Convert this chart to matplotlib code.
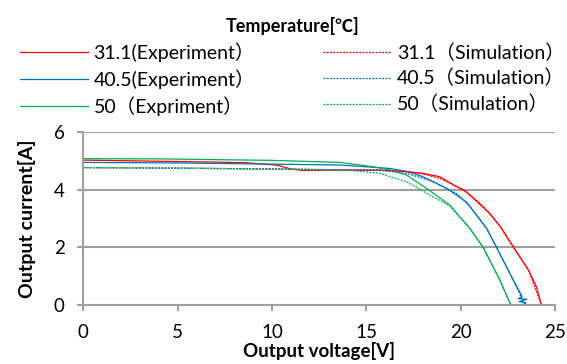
import matplotlib.pyplot as plt

plt.rcParams['font.family'] = ['Lato', 'Noto Sans CJK JP', 'DejaVu Sans']

# I-V curves (voltage [V], current [A])
v_red_exp = [0, 3, 6, 8.6, 10.3, 11.0, 11.6, 13, 15.7, 17, 18.0, 18.9, 19.8, 20.3, 21.0, 21.5, 22.1, 22.8, 23.6, 24.0, 24.28]
i_red_exp = [5.03, 5.0, 4.97, 4.94, 4.85, 4.72, 4.67, 4.68, 4.68, 4.64, 4.57, 4.45, 4.1, 3.93, 3.5, 3.2, 2.72, 2.0, 1.2, 0.65, 0.0]
v_red_sim = [0, 5, 10, 15.7, 17, 18, 18.9, 20.1, 21.0, 21.5, 22.1, 22.8, 23.6, 24.28]
i_red_sim = [4.77, 4.75, 4.72, 4.68, 4.63, 4.55, 4.39, 4.02, 3.55, 3.2, 2.72, 2.0, 1.2, 0.0]

# the blue measurement wiggles back and forth just above 0 A
v_blue_exp = [0, 5, 10, 13.6, 16.24, 17.2, 18.0, 19.25, 20.3, 21.37, 21.9, 22.78, 23.25, 23.05, 23.5, 23.1, 23.45, 23.4]
i_blue_exp = [4.95, 4.93, 4.89, 4.86, 4.74, 4.63, 4.45, 4.05, 3.58, 2.66, 2.0, 0.87, 0.3, 0.22, 0.2, 0.12, 0.08, 0.0]
v_blue_sim = [0, 5, 10, 15.7, 17.13, 18.54, 19.78, 20.5, 21.37, 21.9, 22.78, 23.4]
i_blue_sim = [4.77, 4.75, 4.72, 4.68, 4.57, 4.28, 3.87, 3.41, 2.66, 2.0, 0.87, 0.0]

v_green_exp = [0, 4.2, 10, 13.6, 15.36, 16.3, 17.13, 18.19, 19.42, 20.48, 21.19, 22.07, 22.65]
i_green_exp = [5.08, 5.07, 5.02, 4.95, 4.80, 4.68, 4.51, 4.05, 3.47, 2.66, 2.0, 0.87, 0.0]
v_green_sim = [0, 5, 10, 14, 15.7, 17.13, 18.36, 19.4, 20.48, 21.19, 22.07, 22.65]
i_green_sim = [4.77, 4.75, 4.72, 4.68, 4.57, 4.28, 3.82, 3.45, 2.66, 2.0, 0.87, 0.0]

labels_exp = ['31.1(Experiment）', '40.5(Experiment）', '50（Expriment）']
labels_sim = ['31.1（Simulation）', '40.5（Simulation）', '50（Simulation）']

red = '#FF0000'
blue = '#0070C0'
green = '#00B050'
grey = '#A0A0A0'
dash = (0, (1.6, 1.0))

fig = plt.figure(figsize=(5.67, 3.64), dpi=100)
ax = fig.add_axes([0.147, 0.162, 0.832, 0.475])

h1, = ax.plot(v_red_exp, i_red_exp, color=red, lw=0.9, label=labels_exp[0])
h2, = ax.plot(v_blue_exp, i_blue_exp, color=blue, lw=0.9, label=labels_exp[1])
h3, = ax.plot(v_green_exp, i_green_exp, color=green, lw=0.9, label=labels_exp[2])
h4, = ax.plot(v_red_sim, i_red_sim, color=red, lw=0.9, ls=dash, label=labels_sim[0])
h5, = ax.plot(v_blue_sim, i_blue_sim, color=blue, lw=0.9, ls=dash, label=labels_sim[1])
h6, = ax.plot(v_green_sim, i_green_sim, color=green, lw=0.9, ls=dash, label=labels_sim[2])

ax.set_xlim(0, 25)
ax.set_ylim(0, 6)
ax.set_xticks([0, 5, 10, 15, 20, 25])
ax.set_yticks([0, 2, 4, 6])
ax.grid(axis='y', color=grey, lw=1.5, zorder=0)
ax.set_axisbelow(True)
for s in ['top', 'right']:
    ax.spines[s].set_visible(False)
for s in ['left', 'bottom']:
    ax.spines[s].set_color(grey)
    ax.spines[s].set_linewidth(1.5)
ax.tick_params(colors=grey, labelcolor='black', labelsize=13.5, width=1.5, length=4.5)
ax.tick_params(axis='x', pad=9)
ax.tick_params(axis='y', pad=9)

ax.set_xlabel('Output voltage[V]', fontsize=13.5, fontweight='bold', labelpad=1)
ax.set_ylabel('Output current[A]', fontsize=14, fontweight='bold', labelpad=13)

leg = fig.legend(handles=[h1, h2, h3, h4, h5, h6], ncol=2, loc='upper left',
                 bbox_to_anchor=(10 / 567, 1 - 7 / 364), frameon=False, fontsize=14,
                 title='Temperature[℃]', handlelength=3.5, columnspacing=3.5,
                 labelspacing=0.38, handletextpad=0.3, borderpad=0)
leg.get_title().set_fontweight('bold')
leg.get_title().set_fontsize(13)

fig.savefig('out.png', dpi=100)
